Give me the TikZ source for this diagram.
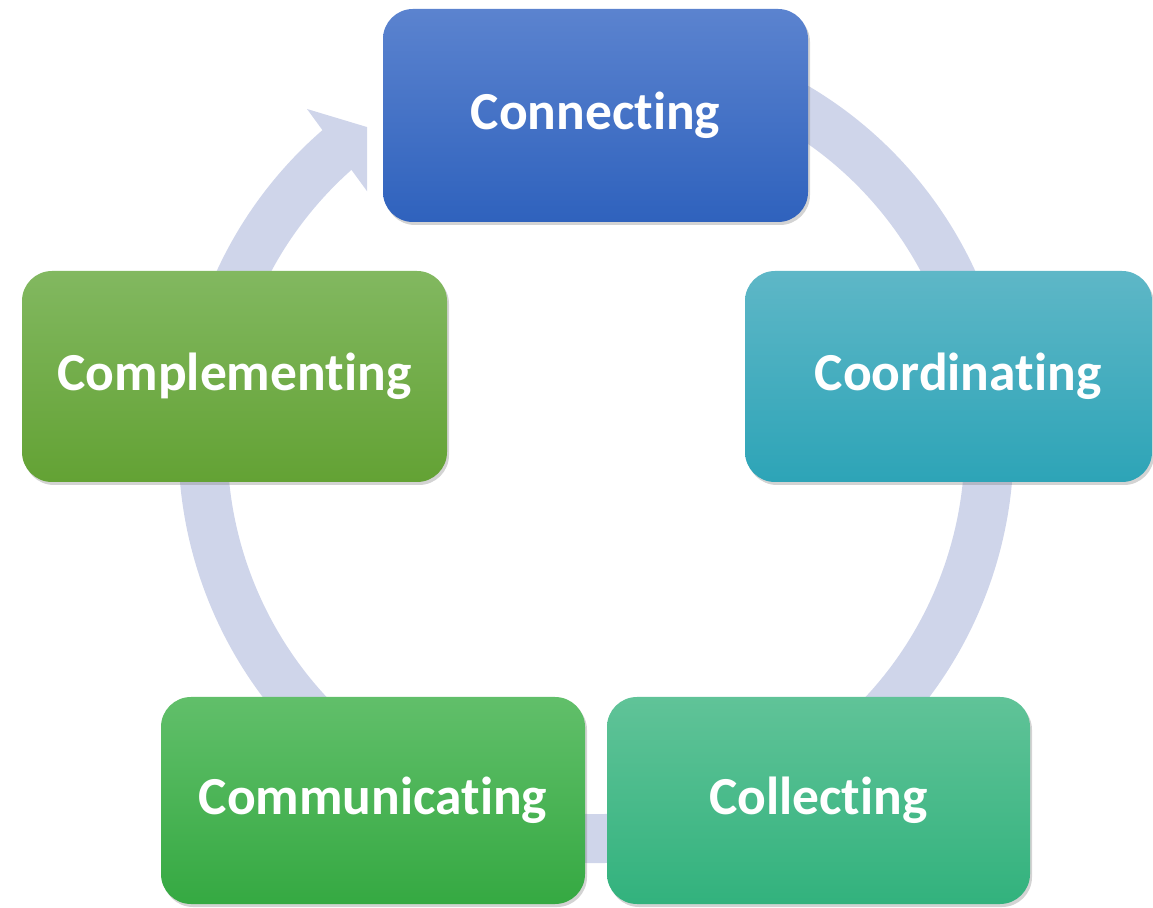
\documentclass[tikz,border=0pt]{standalone}
\usepackage{fontspec}
\setsansfont[Ligatures=NoCommon]{Carlito}
\usetikzlibrary{shadows}
\definecolor{ring}{HTML}{CFD5EA}
\definecolor{connA}{HTML}{5B83CF}\definecolor{connB}{HTML}{2F62BD}
\definecolor{coordA}{HTML}{5EB7C7}\definecolor{coordB}{HTML}{2DA4B7}
\definecolor{collA}{HTML}{60C398}\definecolor{collB}{HTML}{32B27D}
\definecolor{commA}{HTML}{61BF6A}\definecolor{commB}{HTML}{35A942}
\definecolor{complA}{HTML}{82B860}\definecolor{complB}{HTML}{63A234}
\begin{document}
\begin{tikzpicture}[x=1pt,y=1pt,
    box/.style={rounded corners=30pt, inner sep=0pt, minimum width=425pt,
      minimum height=211pt, text=white, font=\fontsize{53.5}{60}\selectfont\sffamily\bfseries,
      drop shadow={shadow xshift=2pt, shadow yshift=-3pt, opacity=0.35}}]
    \useasboundingbox (0,0) rectangle (1153,907);
    \draw[ring, line width=49pt, shift={(596,461.5)}] (70:393) arc[start angle=70, end angle=-229.5, radius=393];
    \begin{scope}
      \clip (0,0) rectangle (367,907);
      \fill[ring] (307,798) -- (420,764) -- (372,709) -- cycle;
    \end{scope}
    \node[box, top color=connA, bottom color=connB, minimum height=213pt] (conn) at (595.5,791.5) {Connecting};
    \node[box, top color=coordA, bottom color=coordB, minimum width=407pt] (coord) at (948.5,530.5) {\hspace*{19pt}Coordinating};
    \node[box, top color=collA, bottom color=collB, minimum width=423pt, minimum height=207pt] (coll) at (818.5,106.5) {Collecting};
    \node[box, top color=commA, bottom color=commB, minimum width=424pt, minimum height=207pt] (comm) at (373,106.5) {Communicating};
    \node[box, top color=complA, bottom color=complB] (compl) at (234.5,530.5) {Complementing};
\end{tikzpicture}
\end{document}
